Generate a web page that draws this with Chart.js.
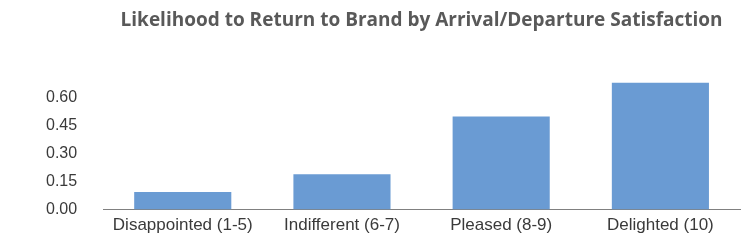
<!DOCTYPE html>
<html>
<head>
<meta charset="utf-8">
<style>
  html, body { margin: 0; padding: 0; background: #fff; }
  #wrap { width: 754px; height: 250px; }
</style>
<script src="https://cdn.jsdelivr.net/npm/chart.js@4"></script>
</head>
<body>
<div id="wrap"><canvas id="returnChart"></canvas></div>
<script>
const categories = ['Disappointed (1-5)', 'Indifferent (6-7)', 'Pleased (8-9)', 'Delighted (10)'];
const returnLikelihood = [0.095, 0.19, 0.50, 0.68];
const yTicks = [0, 0.15, 0.30, 0.45, 0.60];

const barColor = '#6a9bd3';

const config = {
    type: 'bar',
    data: {
        labels: categories,
        datasets: [{
            label: 'Likelihood to return',
            data: returnLikelihood,
            backgroundColor: barColor,
            borderWidth: 0,
            categoryPercentage: 0.61,
            barPercentage: 1
        }]
    },
    options: {
        responsive: true,
        maintainAspectRatio: false,
        animation: false,
        layout: { padding: { left: 28, right: 14, top: 0, bottom: 16 } },
        plugins: {
            legend: { display: false },
            tooltip: { enabled: false },
            title: {
                display: true,
                fullSize: false,
                text: 'Likelihood to Return to Brand by Arrival/Departure Satisfaction',
                color: '#595959',
                font: { family: 'Open Sans', size: 19, weight: 'bold' },
                padding: { top: 9, bottom: 38 }
            }
        },
        scales: {
            x: {
                grid: { display: false },
                border: { display: true, color: '#808080', width: 1 },
                ticks: {
                    color: '#3a3a3a',
                    font: { family: 'Liberation Sans', size: 17 },
                    padding: -2
                }
            },
            y: {
                min: 0,
                max: 0.75,
                grid: { display: false },
                border: { display: false },
                afterBuildTicks: axis => {
                    axis.ticks = yTicks.map(v => ({ value: v }));
                },
                ticks: {
                    color: '#3a3a3a',
                    font: { family: 'Liberation Sans', size: 16 },
                    padding: 18,
                    callback: v => v.toFixed(2)
                }
            }
        }
    }
};

new Chart(document.getElementById('returnChart'), config);
</script>
</body>
</html>
